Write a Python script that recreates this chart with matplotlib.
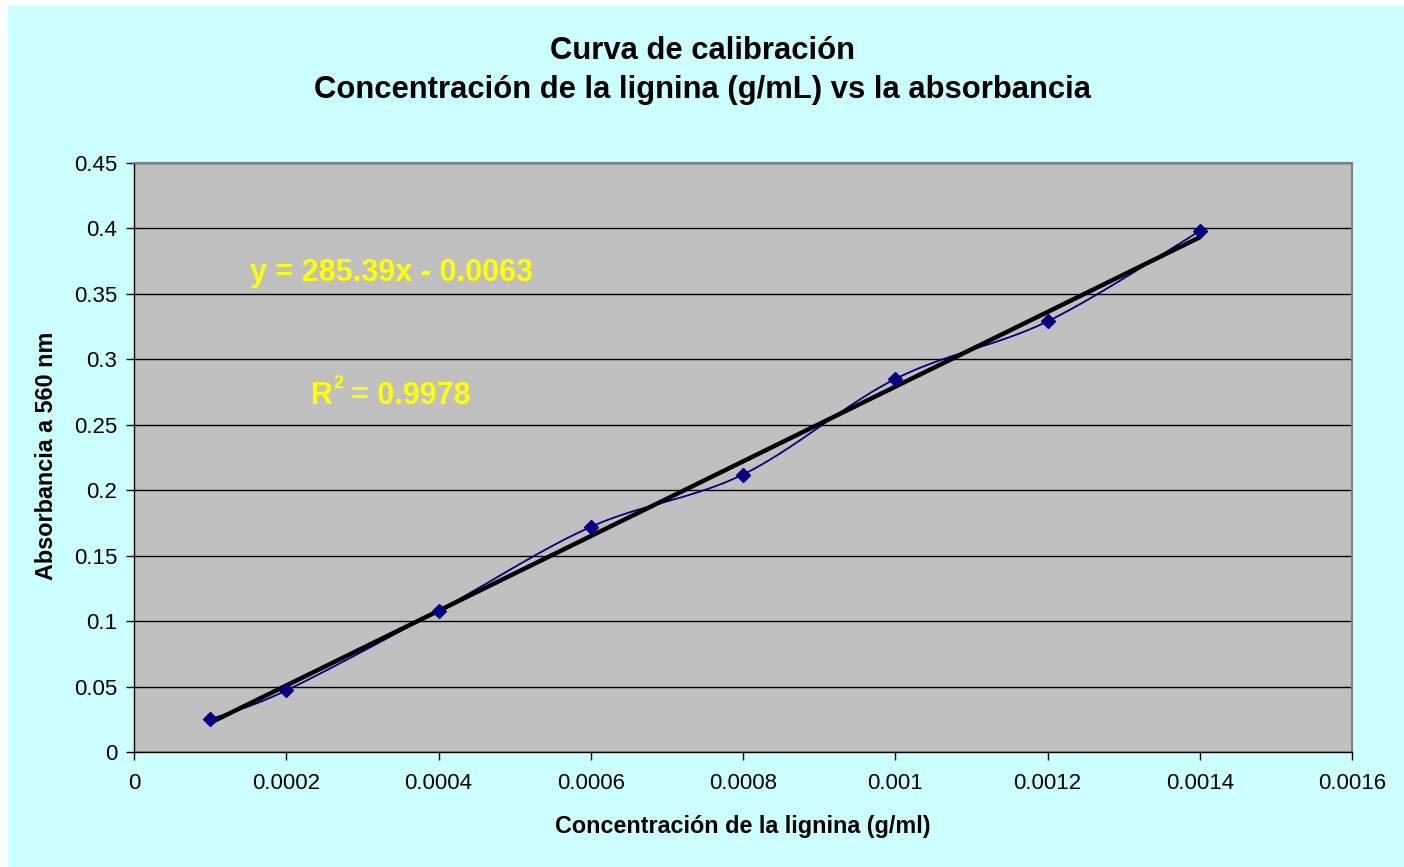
import numpy as np
import matplotlib
matplotlib.use("Agg")
import matplotlib.pyplot as plt
from matplotlib.patches import Rectangle

# Data
conc = [0.0001, 0.0002, 0.0004, 0.0006, 0.0008, 0.0010, 0.0012, 0.0014]
absorb = [0.025, 0.047, 0.108, 0.172, 0.212, 0.285, 0.329, 0.398]
slope = 285.39
intercept = -0.0063
r2 = 0.9978
xticks = [0, 0.0002, 0.0004, 0.0006, 0.0008, 0.001, 0.0012, 0.0014, 0.0016]
xticklabels = ["0", "0.0002", "0.0004", "0.0006", "0.0008", "0.001", "0.0012", "0.0014", "0.0016"]
yticks = [0, 0.05, 0.1, 0.15, 0.2, 0.25, 0.3, 0.35, 0.4, 0.45]
yticklabels = ["0", "0.05", "0.1", "0.15", "0.2", "0.25", "0.3", "0.35", "0.4", "0.45"]

plt.rcParams['font.family'] = ['Liberation Sans', 'DejaVu Sans']

W, H = 1404, 867
fig = plt.figure(figsize=(W / 100, H / 100), dpi=100, facecolor='white')
fig.patches.append(Rectangle((8 / W, 0), 1 - 8 / W, 1 - 6 / H, transform=fig.transFigure,
                             facecolor='#CCFFFF', edgecolor='none', zorder=-10))

ax = fig.add_axes([134 / W, 1 - 752 / H, (1352 - 134) / W, (752 - 163) / H])
ax.set_facecolor('#C0C0C0')
ax.set_xlim(0, 0.0016)
ax.set_ylim(0, 0.45)
ax.set_xticks(xticks)
ax.set_xticklabels(xticklabels)
ax.set_yticks(yticks)
ax.set_yticklabels(yticklabels)
ax.tick_params(direction='out', length=6, width=1, labelsize=16, colors='black', pad=6)
ax.tick_params(axis='x', pad=9)
ax.grid(axis='y', color='black', linewidth=1)
ax.set_axisbelow(True)
for s in ['left', 'bottom']:
    ax.spines[s].set_color('black')
    ax.spines[s].set_linewidth(1)
for s in ['top', 'right']:
    ax.spines[s].set_color('#808080')
    ax.spines[s].set_linewidth(1.5)

# Smoothed line (Excel-style Bezier smoothing through the points)
x = np.array(conc)
y = np.array(absorb)
px = np.concatenate([[x[0]], x, [x[-1]]])
py = np.concatenate([[y[0]], y, [y[-1]]])
sx, sy = [], []
t = np.linspace(0, 1, 40)
for i in range(1, len(px) - 2):
    p0x, p1x, p2x, p3x = px[i - 1], px[i], px[i + 1], px[i + 2]
    p0y, p1y, p2y, p3y = py[i - 1], py[i], py[i + 1], py[i + 2]
    c1x = p1x + (p2x - p0x) / 6
    c1y = p1y + (p2y - p0y) / 6
    c2x = p2x - (p3x - p1x) / 6
    c2y = p2y - (p3y - p1y) / 6
    bx = (1 - t) ** 3 * p1x + 3 * (1 - t) ** 2 * t * c1x + 3 * (1 - t) * t ** 2 * c2x + t ** 3 * p2x
    by = (1 - t) ** 3 * p1y + 3 * (1 - t) ** 2 * t * c1y + 3 * (1 - t) * t ** 2 * c2y + t ** 3 * p2y
    sx.extend(bx)
    sy.extend(by)
ax.plot(sx, sy, color='#000080', linewidth=1.3, zorder=3)
ax.plot(conc, absorb, linestyle='none', marker='D', markersize=7.5, color='#000080', zorder=5)

# Trendline
tx = np.array([conc[0], conc[-1]])
ax.plot(tx, slope * tx + intercept, color='black', linewidth=3.2, solid_capstyle='butt', zorder=4)

ax.text(250 / W, 1 - 273 / H, "y = 285.39x - 0.0063", transform=fig.transFigure,
        color='#FFFF00', fontsize=22, fontweight='bold', ha='left', va='center')
ax.text(311 / W, 1 - 396 / H, "R", transform=fig.transFigure,
        color='#FFFF00', fontsize=22, fontweight='bold', ha='left', va='center')
ax.text(333 / W, 1 - 384 / H, "2", transform=fig.transFigure,
        color='#FFFF00', fontsize=13, fontweight='bold', ha='left', va='center')
ax.text(351 / W, 1 - 396 / H, "= 0.9978", transform=fig.transFigure,
        color='#FFFF00', fontsize=22, fontweight='bold', ha='left', va='center')

fig.text((315 + 1089) / 2 / W, 1 - 51 / H, "Curva de calibración", ha='center', va='center',
         fontsize=22.3, fontweight='bold')
fig.text((315 + 1089) / 2 / W, 1 - 90 / H, "Concentración de la lignina (g/mL) vs la absorbancia",
         ha='center', va='center', fontsize=22.3, fontweight='bold')

fig.text((134 + 1352) / 2 / W, 1 - 826 / H, "Concentración de la lignina (g/ml)", ha='center', va='center',
         fontsize=16.8, fontweight='bold')
fig.text(47 / W, 1 - 456 / H, "Absorbancia a 560 nm", ha='center', va='center', rotation=90,
         fontsize=16.8, fontweight='bold')

fig.savefig("out.png", dpi=100, facecolor=fig.get_facecolor())
